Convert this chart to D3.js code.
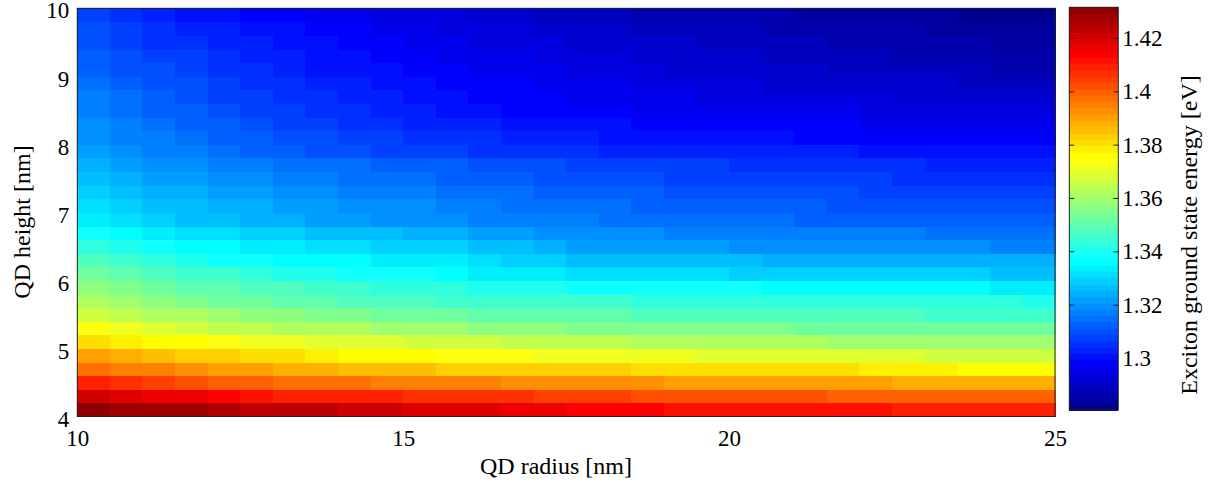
<!DOCTYPE html>
<html>
<head>
<meta charset="utf-8">
<script src="https://cdn.jsdelivr.net/npm/d3@7"></script>
<style>
  html, body { margin: 0; padding: 0; background: #fff; }
  svg { display: block; }
  text { font-family: "Liberation Serif", "Times New Roman", serif; fill: #000; }
</style>
</head>
<body>
<svg id="chart" width="1210" height="491"></svg>
<script>
// Quantum-dot radius (cell centres, nm) and height (cell centres, nm)
const radius = [10.25, 10.75, 11.25, 11.75, 12.25, 12.75, 13.25, 13.75, 14.25, 14.75,
                15.25, 15.75, 16.25, 16.75, 17.25, 17.75, 18.25, 18.75, 19.25, 19.75,
                20.25, 20.75, 21.25, 21.75, 22.25, 22.75, 23.25, 23.75, 24.25, 24.75];
const height = [4.1, 4.3, 4.5, 4.7, 4.9, 5.1, 5.3, 5.5, 5.7, 5.9,
                6.1, 6.3, 6.5, 6.7, 6.9, 7.1, 7.3, 7.5, 7.7, 7.9,
                8.1, 8.3, 8.5, 8.7, 8.9, 9.1, 9.3, 9.5, 9.7, 9.9];
const cellWidth = 0.5;   // nm
const cellHeight = 0.2;  // nm

// Exciton ground state energy [eV]; one row per height, one entry per radius
const energy = [
  [1.4315,1.428,1.428,1.428,1.426,1.423,1.423,1.423,1.421,1.421,1.419,1.419,1.419,1.416,1.416,1.414,1.414,1.414,1.411,1.411,1.411,1.411,1.411,1.411,1.411,1.409,1.409,1.409,1.409,1.409],
  [1.421,1.419,1.416,1.416,1.414,1.411,1.409,1.409,1.409,1.409,1.407,1.407,1.407,1.407,1.404,1.404,1.404,1.402,1.402,1.402,1.402,1.402,1.402,1.400,1.400,1.400,1.400,1.400,1.400,1.400],
  [1.409,1.407,1.404,1.402,1.400,1.400,1.397,1.397,1.397,1.395,1.395,1.395,1.395,1.393,1.393,1.393,1.393,1.393,1.390,1.390,1.390,1.390,1.390,1.390,1.390,1.388,1.388,1.388,1.388,1.388],
  [1.397,1.395,1.395,1.393,1.390,1.390,1.388,1.388,1.386,1.386,1.386,1.383,1.383,1.383,1.383,1.383,1.383,1.381,1.381,1.381,1.381,1.381,1.381,1.381,1.378,1.378,1.378,1.376,1.376,1.376],
  [1.390,1.388,1.386,1.383,1.383,1.381,1.381,1.378,1.376,1.376,1.376,1.374,1.374,1.374,1.371,1.371,1.371,1.371,1.371,1.369,1.369,1.369,1.369,1.369,1.369,1.369,1.367,1.367,1.367,1.367],
  [1.381,1.378,1.376,1.376,1.374,1.371,1.371,1.369,1.369,1.369,1.367,1.367,1.367,1.364,1.364,1.364,1.364,1.362,1.362,1.362,1.362,1.362,1.362,1.360,1.360,1.360,1.360,1.360,1.360,1.360],
  [1.374,1.371,1.369,1.367,1.364,1.364,1.362,1.362,1.362,1.360,1.360,1.360,1.357,1.357,1.357,1.355,1.355,1.355,1.355,1.355,1.355,1.355,1.352,1.352,1.352,1.352,1.352,1.352,1.352,1.352],
  [1.367,1.364,1.362,1.362,1.360,1.357,1.357,1.355,1.355,1.352,1.352,1.352,1.350,1.350,1.350,1.350,1.350,1.348,1.348,1.348,1.348,1.348,1.348,1.348,1.348,1.348,1.345,1.345,1.345,1.345],
  [1.362,1.360,1.357,1.355,1.352,1.352,1.350,1.350,1.348,1.348,1.348,1.345,1.345,1.345,1.345,1.345,1.345,1.343,1.343,1.343,1.343,1.343,1.343,1.343,1.343,1.343,1.343,1.343,1.343,1.341],
  [1.357,1.355,1.352,1.350,1.350,1.348,1.348,1.345,1.345,1.343,1.343,1.343,1.341,1.341,1.341,1.338,1.338,1.338,1.338,1.338,1.338,1.336,1.336,1.336,1.336,1.336,1.336,1.336,1.334,1.334],
  [1.352,1.350,1.348,1.345,1.345,1.343,1.341,1.341,1.338,1.338,1.338,1.336,1.334,1.334,1.334,1.331,1.331,1.331,1.331,1.331,1.329,1.329,1.329,1.329,1.329,1.329,1.329,1.329,1.327,1.327],
  [1.348,1.345,1.343,1.341,1.338,1.338,1.336,1.336,1.336,1.334,1.334,1.334,1.331,1.329,1.329,1.327,1.327,1.327,1.327,1.327,1.327,1.324,1.324,1.324,1.324,1.324,1.324,1.324,1.324,1.324],
  [1.343,1.341,1.338,1.336,1.336,1.334,1.334,1.331,1.331,1.329,1.329,1.329,1.327,1.327,1.324,1.322,1.322,1.322,1.322,1.322,1.319,1.319,1.319,1.319,1.319,1.319,1.319,1.319,1.317,1.317],
  [1.338,1.336,1.334,1.331,1.331,1.329,1.329,1.327,1.327,1.327,1.324,1.324,1.322,1.322,1.319,1.319,1.319,1.319,1.317,1.317,1.317,1.317,1.317,1.317,1.317,1.317,1.315,1.315,1.315,1.315],
  [1.334,1.331,1.329,1.327,1.327,1.324,1.324,1.322,1.322,1.319,1.319,1.319,1.317,1.317,1.317,1.317,1.315,1.315,1.315,1.315,1.315,1.315,1.312,1.312,1.312,1.312,1.312,1.312,1.312,1.312],
  [1.331,1.329,1.327,1.327,1.324,1.324,1.322,1.322,1.319,1.319,1.319,1.317,1.317,1.315,1.315,1.315,1.315,1.312,1.312,1.312,1.312,1.312,1.312,1.310,1.310,1.310,1.310,1.310,1.310,1.310],
  [1.329,1.327,1.324,1.324,1.322,1.322,1.319,1.319,1.317,1.317,1.317,1.315,1.315,1.315,1.312,1.312,1.312,1.312,1.310,1.310,1.310,1.310,1.310,1.310,1.308,1.308,1.308,1.308,1.308,1.308],
  [1.327,1.324,1.322,1.322,1.319,1.319,1.317,1.317,1.315,1.315,1.315,1.312,1.312,1.312,1.310,1.310,1.310,1.310,1.308,1.308,1.308,1.308,1.308,1.308,1.308,1.305,1.305,1.305,1.305,1.305],
  [1.324,1.322,1.319,1.319,1.317,1.317,1.315,1.315,1.315,1.312,1.312,1.312,1.310,1.310,1.310,1.308,1.308,1.308,1.308,1.308,1.305,1.305,1.305,1.305,1.305,1.305,1.303,1.303,1.303,1.303],
  [1.322,1.319,1.317,1.317,1.315,1.312,1.312,1.310,1.310,1.308,1.308,1.308,1.305,1.305,1.305,1.305,1.303,1.303,1.303,1.303,1.303,1.303,1.303,1.303,1.301,1.301,1.301,1.301,1.301,1.301],
  [1.319,1.317,1.317,1.315,1.312,1.312,1.310,1.310,1.308,1.308,1.305,1.305,1.305,1.303,1.303,1.303,1.301,1.301,1.301,1.301,1.301,1.301,1.298,1.298,1.298,1.298,1.298,1.298,1.298,1.298],
  [1.319,1.317,1.315,1.312,1.312,1.310,1.308,1.308,1.305,1.305,1.303,1.303,1.303,1.301,1.301,1.301,1.301,1.298,1.298,1.298,1.298,1.298,1.298,1.298,1.296,1.296,1.296,1.296,1.296,1.296],
  [1.317,1.315,1.312,1.312,1.310,1.308,1.308,1.305,1.305,1.303,1.303,1.301,1.301,1.298,1.298,1.298,1.298,1.296,1.296,1.296,1.296,1.296,1.296,1.296,1.293,1.293,1.293,1.293,1.293,1.293],
  [1.317,1.315,1.312,1.310,1.308,1.308,1.305,1.305,1.303,1.303,1.301,1.301,1.298,1.298,1.298,1.296,1.296,1.296,1.296,1.293,1.293,1.293,1.293,1.293,1.293,1.291,1.291,1.291,1.291,1.291],
  [1.315,1.312,1.310,1.310,1.308,1.305,1.305,1.303,1.303,1.301,1.301,1.298,1.298,1.298,1.296,1.296,1.296,1.293,1.293,1.293,1.293,1.291,1.291,1.291,1.291,1.291,1.291,1.289,1.289,1.289],
  [1.312,1.310,1.310,1.308,1.305,1.305,1.303,1.301,1.301,1.301,1.298,1.298,1.296,1.296,1.296,1.293,1.293,1.293,1.291,1.291,1.291,1.291,1.291,1.289,1.289,1.289,1.289,1.289,1.286,1.286],
  [1.312,1.310,1.308,1.308,1.305,1.303,1.303,1.301,1.301,1.298,1.298,1.296,1.296,1.296,1.293,1.293,1.293,1.291,1.291,1.291,1.291,1.289,1.289,1.289,1.289,1.286,1.286,1.286,1.286,1.286],
  [1.310,1.308,1.305,1.305,1.303,1.303,1.301,1.301,1.298,1.298,1.296,1.296,1.293,1.293,1.293,1.291,1.291,1.291,1.291,1.289,1.289,1.289,1.289,1.286,1.286,1.286,1.286,1.286,1.284,1.284],
  [1.310,1.308,1.305,1.303,1.303,1.301,1.301,1.298,1.298,1.296,1.296,1.293,1.293,1.293,1.291,1.291,1.291,1.289,1.289,1.289,1.289,1.286,1.286,1.286,1.286,1.286,1.284,1.284,1.284,1.284],
  [1.308,1.305,1.303,1.301,1.301,1.298,1.298,1.296,1.296,1.293,1.293,1.293,1.291,1.291,1.289,1.289,1.289,1.286,1.286,1.286,1.286,1.286,1.284,1.284,1.284,1.284,1.284,1.282,1.282,1.2805]
];

const xTicks = [10, 15, 20, 25];
const yTicks = [4, 5, 6, 7, 8, 9, 10];
const colorTicks = [1.3, 1.32, 1.34, 1.36, 1.38, 1.4, 1.42];
const colorTickLabels = ["1.3", "1.32", "1.34", "1.36", "1.38", "1.4", "1.42"];

// 64-step jet colour map
function jetColors(n) {
  const q = n / 4, out = [];
  const clamp = v => Math.max(0, Math.min(1, v));
  for (let i = 0; i < n; i++) {
    const r = clamp(Math.min(i - 1.5 * q + 1, 4.5 * q - i) / q);
    const g = clamp(Math.min(i - 0.5 * q + 1, 3.5 * q - i) / q);
    const b = clamp(Math.min(i + 0.5 * q + 1, 2.5 * q - i) / q);
    out.push(d3.rgb(r * 255, g * 255, b * 255).formatHex());
  }
  return out;
}
const palette = jetColors(64);

const svg = d3.select("#chart");
const plot = { left: 77.3, right: 1055, top: 8.3, bottom: 416.5 };
const bar = { left: 1069.3, right: 1118.3, top: 7.3, bottom: 410 };

const x = d3.scaleLinear().domain([10, 25]).range([plot.left, plot.right]);
const y = d3.scaleLinear().domain([4, 10]).range([plot.bottom, plot.top]);

const allValues = energy.flat();
const extent = d3.extent(allValues);
const color = d3.scaleQuantize().domain(extent).range(palette);

// Heat map cells
const cells = [];
energy.forEach((row, i) => row.forEach((v, j) => cells.push({ r: radius[j], h: height[i], v })));

svg.append("g")
  .attr("shape-rendering", "crispEdges")
  .selectAll("rect")
  .data(cells)
  .join("rect")
  .attr("x", d => x(d.r - cellWidth / 2))
  .attr("y", d => y(d.h + cellHeight / 2))
  .attr("width", d => x(d.r + cellWidth / 2) - x(d.r - cellWidth / 2) + 0.5)
  .attr("height", d => y(d.h - cellHeight / 2) - y(d.h + cellHeight / 2) + 0.5)
  .attr("fill", d => color(d.v));

// Axes box
svg.append("rect")
  .attr("x", plot.left).attr("y", plot.top)
  .attr("width", plot.right - plot.left).attr("height", plot.bottom - plot.top)
  .attr("fill", "none").attr("stroke", "#222").attr("stroke-width", 1);

const xAxis = svg.append("g")
  .attr("transform", `translate(0,${plot.bottom})`)
  .call(d3.axisBottom(x).tickValues(xTicks).tickSize(0).tickPadding(13).tickFormat(d3.format("d")));
const yAxis = svg.append("g")
  .attr("transform", `translate(${plot.left},0)`)
  .call(d3.axisLeft(y).tickValues(yTicks).tickSize(0).tickPadding(8).tickFormat(d3.format("d")));
[xAxis, yAxis].forEach(g => {
  g.select(".domain").remove();
  g.selectAll("text").attr("font-size", 23).attr("font-family", "Liberation Serif, Times New Roman, serif").attr("fill", "#000");
});
yAxis.selectAll("text").attr("dy", "0.42em");

svg.append("text")
  .attr("x", 556).attr("y", 474)
  .attr("text-anchor", "middle").attr("font-size", 24)
  .text("QD radius [nm]");

svg.append("text")
  .attr("transform", "translate(30,222) rotate(-90)")
  .attr("text-anchor", "middle").attr("font-size", 24)
  .text("QD height [nm]");

// Colour bar
const cb = d3.scaleLinear().domain(extent).range([bar.bottom, bar.top]);
const step = (extent[1] - extent[0]) / palette.length;
svg.append("g")
  .attr("shape-rendering", "crispEdges")
  .selectAll("rect")
  .data(palette)
  .join("rect")
  .attr("x", bar.left)
  .attr("width", bar.right - bar.left)
  .attr("y", (c, i) => cb(extent[0] + (i + 1) * step))
  .attr("height", (c, i) => cb(extent[0] + i * step) - cb(extent[0] + (i + 1) * step) + 0.5)
  .attr("fill", c => c);

svg.append("rect")
  .attr("x", bar.left).attr("y", bar.top)
  .attr("width", bar.right - bar.left).attr("height", bar.bottom - bar.top)
  .attr("fill", "none").attr("stroke", "#222").attr("stroke-width", 1);

const cbRight = svg.append("g")
  .attr("transform", `translate(${bar.right},0)`)
  .call(d3.axisRight(cb).tickValues(colorTicks).tickSize(-5).tickPadding(4)
    .tickFormat((d, i) => colorTickLabels[i]));
const cbLeft = svg.append("g")
  .attr("transform", `translate(${bar.left},0)`)
  .call(d3.axisLeft(cb).tickValues(colorTicks).tickSize(-5).tickFormat(""));
[cbRight, cbLeft].forEach(g => {
  g.select(".domain").remove();
  g.selectAll("line").attr("stroke", "#222");
  g.selectAll("text").attr("font-size", 23).attr("font-family", "Liberation Serif, Times New Roman, serif").attr("fill", "#000");
});

svg.append("text")
  .attr("transform", "translate(1197,235) rotate(-90)")
  .attr("text-anchor", "middle").attr("font-size", 24)
  .text("Exciton ground state energy [eV]");
</script>
</body>
</html>
